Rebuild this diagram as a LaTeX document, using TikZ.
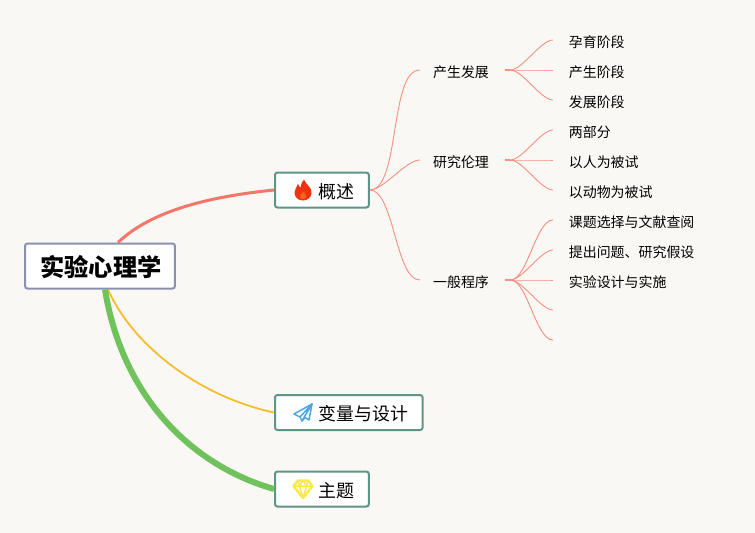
\documentclass[tikz,border=0pt]{standalone}
\usepackage{fontspec}
\setmainfont{Noto Sans CJK SC}
\definecolor{paper}{HTML}{faf8f4}
\definecolor{salmon}{HTML}{f4766a}
\definecolor{thread}{HTML}{f4907f}
\definecolor{amber}{HTML}{f8bb2a}
\definecolor{leaf}{HTML}{70c25c}
\definecolor{teal}{HTML}{5f9488}
\definecolor{slate}{HTML}{8b91ad}
\definecolor{flame}{HTML}{ee3312}
\definecolor{ember}{HTML}{f8641e}
\definecolor{sky}{HTML}{4ba6e2}
\definecolor{gem}{HTML}{f9e94c}
\tikzset{
  rootbox/.style={draw=slate,line width=0.04cm,rounded corners=0.05cm,fill=white,minimum width=3cm,minimum height=0.9cm,inner sep=0pt,text height=0.48cm,text depth=0.07cm,font=\fontsize{13.8}{15}\selectfont\bfseries},
  topicbox/.style={draw=teal,line width=0.04cm,rounded corners=0.05cm,fill=white,anchor=west,minimum height=0.7cm,inner ysep=0pt,inner xsep=0.29cm,text height=0.36cm,text depth=0.04cm,font=\fontsize{10.2}{12}\selectfont},
  midtext/.style={inner ysep=0pt,inner xsep=0.26cm,text height=0.31cm,text depth=0.03cm,font=\fontsize{7.94}{10}\selectfont},
  lefttext/.style={anchor=west,inner ysep=0pt,inner xsep=0.31cm,text height=0.31cm,text depth=0.03cm,font=\fontsize{7.94}{10}\selectfont},
  thin thread/.style={draw=thread,line width=0.018cm},
  flameicon/.pic={
    \fill[flame] (1,-10.5) .. controls (3,-5) and (9,-3) .. (8.5,3) .. controls (8,8) and (4,10.5) .. (0,10.5) .. controls (-5,10.5) and (-8.5,7) .. (-8.5,2.5) .. controls (-8.5,-1) and (-6,-3) .. (-5,-6) .. controls (-4,-4) and (-3.5,-3) .. (-2.5,-2.5) .. controls (-2,-6) and (-1,-8.5) .. (1,-10.5) -- cycle;
    \fill[ember] (0.5,1.5) .. controls (2,3.5) and (4,5) .. (3,7.5) .. controls (2,9.5) and (-2,9.5) .. (-3,7.5) .. controls (-4,5) and (-1,4) .. (0.5,1.5) -- cycle;
  },
  planeicon/.pic={
    \draw[sky,line width=0.03cm,line join=round] (9,-9) -- (-9,1) -- (-3,4) -- (-1,8) -- (2,4.5) -- (6,7) -- cycle;
    \draw[sky,line width=0.03cm,line join=round] (-3,4) -- (9,-9) -- (-1,8);
  },
  gemicon/.pic={
    \draw[gem,line width=0.05cm,line join=round] (-5,-8.5) -- (5,-8.5) -- (9.5,-3) -- (0,9) -- (-9.5,-3) -- cycle;
    \draw[gem,line width=0.03cm,line join=round] (-9.5,-3) -- (9.5,-3) (-5,-8.5) -- (-3.5,-3) -- (0,9) -- (3.5,-3) -- (5,-8.5) (-3.5,-3) -- (0,-8.5) -- (3.5,-3);
  }
}

\begin{document}
\begin{tikzpicture}[x=0.02cm,y=-0.02cm]
  \useasboundingbox (0,0) rectangle (755,532);
  \fill[paper] (-5,-5) rectangle (760,537);

  % main boxes
  \node (root) at (100,266)[rootbox]{\hspace*{0.04cm}实验心理学};
  \node (overview) at (274,190)[topicbox]{\hspace*{0.58cm}概述};
  \node (design) at (274,412.5)[topicbox]{\hspace*{0.58cm}变量与设计};
  \node (theme) at (274,489)[topicbox]{\hspace*{0.58cm}主题};

  \pic at (303,190) {flameicon};
  \pic at (303,413) {planeicon};
  \pic at (303,489) {gemicon};

  % second level
  \node (origin) at (461,70)[midtext]{产生发展};
  \node (ethics) at (461,160)[midtext]{研究伦理};
  \node (method) at (461,280)[midtext]{一般程序};

  % leaves
  \node (a1) at (553,40)[lefttext]{孕育阶段};
  \node (a2) at (553,70)[lefttext]{产生阶段};
  \node (a3) at (553,100)[lefttext]{发展阶段};
  \node (b1) at (553,130)[lefttext]{两部分};
  \node (b2) at (553,160)[lefttext]{以人为被试};
  \node (b3) at (553,190)[lefttext]{以动物为被试};
  \node (c1) at (553,220)[lefttext]{课题选择与文献查阅};
  \node (c2) at (553,250)[lefttext]{提出问题、研究假设};
  \node (c3) at (553,280)[lefttext]{实验设计与实施};
  \coordinate (c4) at (553,310);
  \coordinate (c5) at (553,340);

  % thick branches
  \draw[salmon,line width=0.06cm] ([xshift=0.36cm]root.north) .. controls (150,212) and (205,197) .. (overview.west);
  \draw[amber,line width=0.035cm] ([xshift=0.16cm]root.south) .. controls (135,350) and (205,398) .. (design.west);
  \draw[leaf,line width=0.12cm] ([xshift=0.1cm]root.south) .. controls (122,395) and (190,465) .. (theme.west);

  % thin threads
  \foreach \mid in {origin,ethics,method}
    \draw[thin thread] (overview.east) to[out=0,in=180,looseness=0.6] (\mid.west);

  \foreach \mid/\ends in {origin/{a1,a2,a3},ethics/{b1,b2,b3},method/{c1,c2,c3,c4,c5}}{
    \draw[thread,line width=0.03cm,shorten <=0.06cm] (\mid.east) -- ++(8,0) coordinate (\mid-fan);
    \foreach \tip in \ends
      \draw[thin thread] (\mid-fan) to[out=0,in=180,looseness=0.6] (\tip.west |- \tip);
  }
\end{tikzpicture}
\end{document}
